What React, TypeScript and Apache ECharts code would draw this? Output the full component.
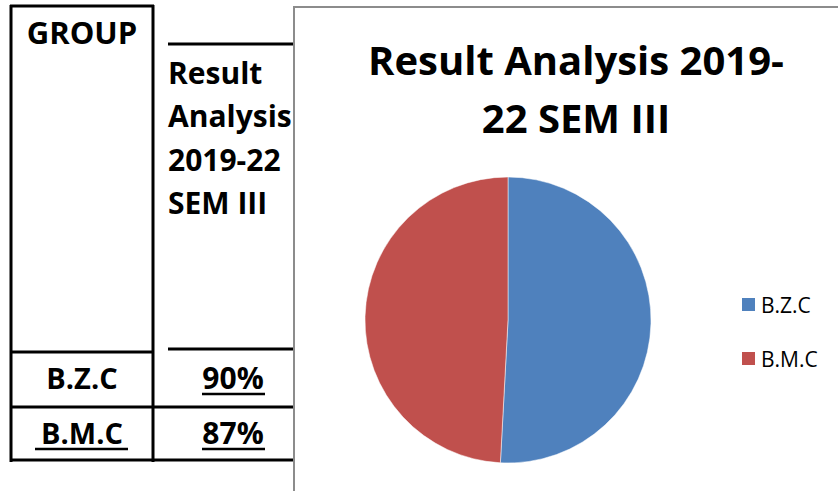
import React, { useEffect, useRef } from "react";
import * as echarts from "echarts";

const groups = ["B.Z.C", "B.M.C"];
const results = [90, 87];
const headerLines = ["Result", "Analysis", "2019-22", "SEM III"];
const chartTitle = "Result Analysis 2019-\n22 SEM III";
const colors = ["#4F81BD", "#C0504D"];

const FONT = "'Open Sans', 'Noto Sans', sans-serif";

export default function App() {
  const ref = useRef<HTMLDivElement>(null);
  useEffect(() => {
    if (!ref.current) return;
    const chart = echarts.init(ref.current, undefined, { renderer: "svg" });
    const line = (x1: number, y1: number, x2: number, y2: number, w = 3, color = "#000", z = 0) => ({
      type: "line",
      z,
      shape: { x1, y1, x2, y2 },
      style: { stroke: color, lineWidth: w },
      silent: true,
    });
    const txt = (text: string, x: number, y: number, align: string, size = 28, z = 0) => ({
      type: "text",
      z,
      x,
      y,
      style: {
        text,
        fill: "#000",
        font: `bold ${size}px ${FONT}`,
        align,
        verticalAlign: "middle",
      },
      silent: true,
    });
    const rowY = [377, 432];
    const graphics: any[] = [
      line(11, 5, 11, 462),
      line(153, 5, 153, 462),
      line(10, 6, 154, 6),
      line(10, 352, 154, 352),
      line(168, 44, 295, 44),
      line(168, 349, 295, 349),
      line(10, 407, 295, 407),
      line(10, 460, 295, 460),
      txt("GROUP", 82, 32, "center", 31),
      ...headerLines.map((t, i) => txt(t, 168, 72 + i * 43.5, "left", 30)),
      ...groups.map((g, i) => txt(g, 82, rowY[i], "center", 29)),
      ...results.map((v, i) => txt(`${v}%`, 233, rowY[i], "center", 30)),
      line(202, 394, 265, 394, 2.5),
      line(35, 449, 128, 449, 2.5),
      line(202, 449, 265, 449, 2.5),
      {
        type: "rect",
        z: 1,
        shape: { x: 294, y: 7, width: 600, height: 600 },
        style: { fill: "#fff", stroke: "#8c8c8c", lineWidth: 2 },
        silent: true,
      },
    ];
    chart.setOption({
      animation: false,
      backgroundColor: "#fff",
      title: {
        text: chartTitle,
        left: 571,
        top: 25,
        textAlign: "center",
        z: 10,
        textStyle: {
          fontFamily: FONT,
          fontWeight: "bold",
          fontSize: 40,
          lineHeight: 58,
          color: "#000",
        },
      },
      legend: {
        orient: "vertical",
        left: 735,
        top: 289,
        itemWidth: 15,
        itemHeight: 15,
        itemGap: 33,
        icon: "rect",
        z: 10,
        textStyle: { fontFamily: FONT, fontSize: 21, color: "#000" },
        data: groups,
      },
      color: colors,
      graphic: graphics,
      series: [
        {
          type: "pie",
          z: 5,
          center: [508, 320],
          radius: 143,
          startAngle: 90,
          clockwise: true,
          label: { show: false },
          labelLine: { show: false },
          itemStyle: { borderColor: "#fff", borderWidth: 0.5 },
          data: groups.map((g, i) => ({ name: g, value: results[i] })),
        },
      ],
    });
    return () => chart.dispose();
  }, []);
  return (
    <div
      ref={ref}
      style={{ position: "fixed", left: 0, top: 0, width: 838, height: 491, background: "#fff" }}
    />
  );
}
